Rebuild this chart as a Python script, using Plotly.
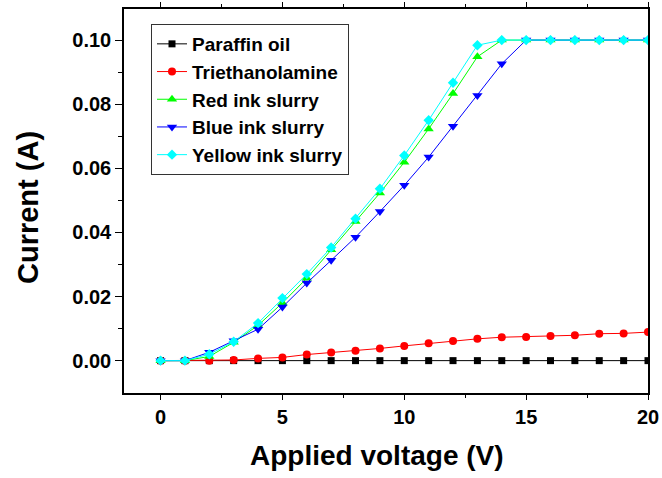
import plotly.graph_objects as go

# Applied voltage (V)
voltage = [0, 1, 2, 3, 4, 5, 6, 7, 8, 9, 10, 11, 12, 13, 14, 15, 16, 17, 18, 19, 20]

# Current (A) for each liquid
paraffin_oil = [0.0, 0.0, 0.0, 0.0, 0.0, 0.0, 0.0, 0.0, 0.0, 0.0, 0.0,
                0.0, 0.0, 0.0, 0.0, 0.0, 0.0, 0.0, 0.0, 0.0, 0.0]
triethanolamine = [0.0, 0.0, 0.0, 0.0002, 0.0007, 0.0010, 0.0019, 0.0025, 0.0031, 0.0038, 0.0046,
                   0.0054, 0.0061, 0.0068, 0.0073, 0.0074, 0.0077, 0.0079, 0.0084, 0.0085, 0.0089]
red_ink = [0.0, 0.0, 0.0013, 0.0057, 0.0110, 0.0180, 0.0257, 0.0346, 0.0434, 0.0523, 0.0619,
           0.0723, 0.0833, 0.0948, 0.1000, 0.1000, 0.1000, 0.1000, 0.1000, 0.1000, 0.1000]
blue_ink = [0.0, 0.0, 0.0026, 0.0062, 0.0098, 0.0167, 0.0242, 0.0313, 0.0385, 0.0465, 0.0547,
            0.0635, 0.0731, 0.0827, 0.0926, 0.1000, 0.1000, 0.1000, 0.1000, 0.1000, 0.1000]
yellow_ink = [0.0, 0.0, 0.0020, 0.0059, 0.0117, 0.0195, 0.0270, 0.0353, 0.0443, 0.0536, 0.0640,
              0.0750, 0.0867, 0.0984, 0.1000, 0.1000, 0.1000, 0.1000, 0.1000, 0.1000, 0.1000]

x_ticks = [0, 5, 10, 15, 20]
y_ticks = [0.00, 0.02, 0.04, 0.06, 0.08, 0.10]
y_tick_labels = ["0.00", "0.02", "0.04", "0.06", "0.08", "0.10"]
y_minor_ticks = [0.01, 0.03, 0.05, 0.07, 0.09]

FONT = "Liberation Sans, Arial, sans-serif"

series = [
    ("Paraffin oil", paraffin_oil, "#000000", "square", 7),
    ("Triethanolamine", triethanolamine, "#ff0000", "circle", 8),
    ("Red ink slurry", red_ink, "#00ff00", "triangle-up", 9),
    ("Blue ink slurry", blue_ink, "#0000ff", "triangle-down", 9),
    ("Yellow ink slurry", yellow_ink, "#00ffff", "diamond", 8),
]

fig = go.Figure()
for name, values, color, symbol, size in series:
    fig.add_trace(go.Scatter(
        x=voltage, y=values, name=name, mode="lines+markers",
        line=dict(color=color, width=1),
        marker=dict(symbol=symbol, size=size, color=color, line=dict(width=0)),
    ))

x_range = [-1.5, 20]
y_range = [-0.0101, 0.1097]

# plot area in pixels
W, H = 662, 478
L, R, T, B = 124, 648, 9, 393


def px_to_paper(px, py):
    return (px - L) / (R - L), (B - py) / (B - T)


xt_x, xt_y = px_to_paper(376.5, 455)
yt_x, yt_y = px_to_paper(28, 208)

fig.update_layout(
    width=W, height=H,
    margin=dict(l=L, r=W - R, t=T, b=H - B, autoexpand=False),
    paper_bgcolor="white", plot_bgcolor="white",
    font=dict(family=FONT, color="black", size=20, weight="bold"),
    showlegend=True,
    legend=dict(
        x=px_to_paper(151, 0)[0], y=px_to_paper(0, 24)[1],
        xanchor="left", yanchor="top",
        bgcolor="white", bordercolor="#333333", borderwidth=1,
        font=dict(family=FONT, size=19, color="black", weight="bold"),
        itemwidth=30, tracegroupgap=0,
    ),
    xaxis=dict(
        range=x_range, tickmode="array", tickvals=x_ticks,
        ticks="outside", ticklen=5, tickwidth=1, tickcolor="black",
        showline=True, linecolor="black", linewidth=1.5, mirror="ticks",
        showgrid=False, zeroline=False, automargin=False,
        tickfont=dict(family=FONT, size=20, weight="bold"),
        minor=dict(tickmode="array", tickvals=[2.5, 7.5, 12.5, 17.5],
                   ticks="outside", ticklen=3, tickcolor="black", showgrid=False),
    ),
    yaxis=dict(
        range=y_range, tickmode="array", tickvals=y_ticks, ticktext=y_tick_labels,
        ticks="outside", ticklen=7, tickwidth=1, tickcolor="black",
        showline=True, linecolor="black", linewidth=1.5, mirror=True,
        showgrid=False, zeroline=False, automargin=False,
        tickfont=dict(family=FONT, size=20, weight="bold"),
        minor=dict(tickmode="array", tickvals=y_minor_ticks,
                   ticks="outside", ticklen=4, tickcolor="black", showgrid=False),
    ),
    # right-hand frame ticks pointing into the plot
    yaxis2=dict(
        overlaying="y", anchor="x", side="right", range=y_range,
        tickmode="array", tickvals=y_ticks, showticklabels=False,
        ticks="inside", ticklen=4, tickwidth=1, tickcolor="black",
        showline=False, showgrid=False, zeroline=False, automargin=False,
        minor=dict(tickmode="array", tickvals=y_minor_ticks,
                   ticks="inside", ticklen=3, tickcolor="black", showgrid=False),
    ),
    annotations=[
        dict(text="Applied voltage (V)", x=xt_x, y=xt_y,
             xref="paper", yref="paper", xanchor="center", yanchor="middle",
             showarrow=False, font=dict(family=FONT, size=28, weight="bold")),
        dict(text="Current (A)", x=yt_x, y=yt_y, textangle=-90,
             xref="paper", yref="paper", xanchor="center", yanchor="middle",
             showarrow=False, font=dict(family=FONT, size=29, weight="bold")),
    ],
)

fig.write_html("out.html")
